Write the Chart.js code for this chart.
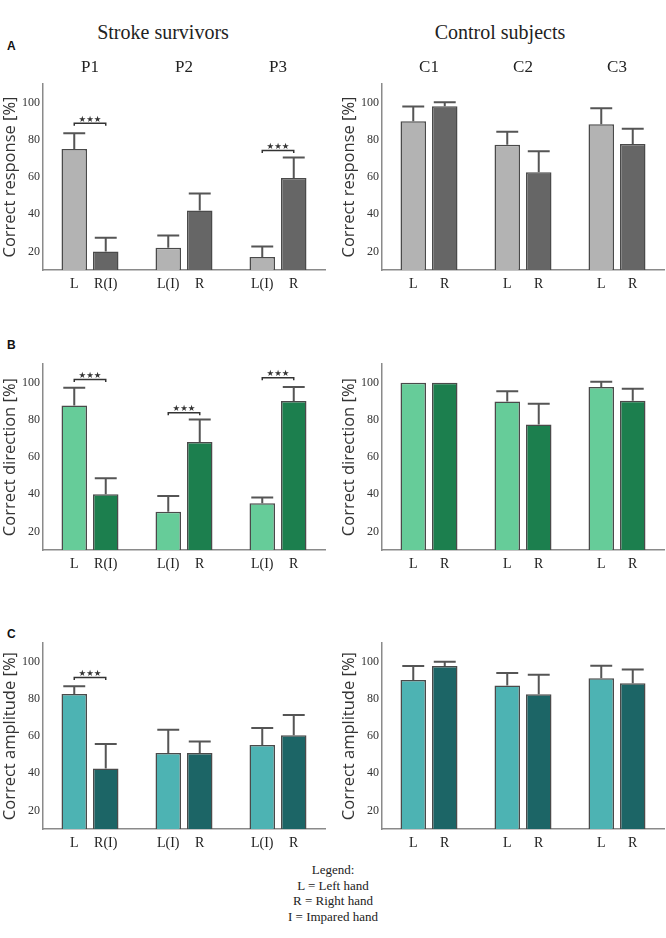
<!DOCTYPE html>
<html>
<head>
<meta charset="utf-8">
<script src="https://cdn.jsdelivr.net/npm/chart.js@4.4.0/dist/chart.umd.min.js"></script>
<style>
  body { margin: 0; background: #fff; width: 666px; height: 938px; position: relative; overflow: hidden; }
  canvas { position: absolute; }
  .t { position: absolute; transform: translate(-50%, -50%); white-space: nowrap; color: #222; font-family: "Liberation Serif", serif; }
  .lbl { position: absolute; font: bold 12px "Liberation Sans", Arial, sans-serif; color: #111; }
  .legend { position: absolute; left: 333px; top: 862px; transform: translateX(-50%); text-align: center;
            font: 13px/15.5px "Liberation Serif", serif; color: #222; white-space: nowrap; }
</style>
</head>
<body>
<div class="t" style="left:163px;top:32px;font-size:20px">Stroke survivors</div>
<div class="t" style="left:500px;top:32px;font-size:20px">Control subjects</div>
<div class="lbl" style="left:7px;top:39px">A</div>
<div class="lbl" style="left:7px;top:338px">B</div>
<div class="lbl" style="left:7px;top:627px">C</div>

<canvas id="aL" width="326" height="242" style="left:0;top:54px"></canvas>
<canvas id="aR" width="326" height="242" style="left:339px;top:54px"></canvas>
<canvas id="bL" width="326" height="222" style="left:0;top:354px"></canvas>
<canvas id="bR" width="326" height="222" style="left:339px;top:354px"></canvas>
<canvas id="cL" width="326" height="222" style="left:0;top:633px"></canvas>
<canvas id="cR" width="326" height="222" style="left:339px;top:633px"></canvas>

<div class="legend">Legend:<br>L = Left hand<br>R = Right hand<br>I = Impared hand</div>

<script>
const strokeGroups = ["P1", "P2", "P3"];
const controlGroups = ["C1", "C2", "C3"];
const strokeLeftLabels = ["L", "L(I)", "L(I)"];
const strokeRightLabels = ["R(I)", "R", "R"];
const controlLeftLabels = ["L", "L", "L"];
const controlRightLabels = ["R", "R", "R"];
const yTicks = [20, 40, 60, 80, 100];

// correct response
const respStrokeL = [75, 22, 17];
const respStrokeLErr = [8.5, 6.6, 5.7];
const respStrokeR = [20, 42, 59.5];
const respStrokeRErr = [7.3, 9.1, 11];
const respStrokeSig = [88.9, null, 74.2];
const respControlL = [90, 77.3, 88.4];
const respControlLErr = [7.9, 7, 8.6];
const respControlR = [98, 62.6, 77.8];
const respControlRErr = [2.2, 11.3, 8.2];

// correct direction
const dirStrokeL = [87.8, 30.6, 35.1];
const dirStrokeLErr = [9.5, 8.4, 3.2];
const dirStrokeR = [40, 68.1, 90.2];
const dirStrokeRErr = [8.6, 12.2, 7.5];
const dirStrokeSig = [101.8, 83.9, 102.7];
const dirControlL = [100, 89.9, 97.7];
const dirControlLErr = [0, 5.5, 2.8];
const dirControlR = [100, 77.5, 90.3];
const dirControlRErr = [0, 11.2, 6.5];

// correct amplitude
const ampStrokeL = [82.7, 50.9, 55.2];
const ampStrokeLErr = [4.1, 12.5, 9.1];
const ampStrokeR = [42.5, 50.9, 60.5];
const ampStrokeRErr = [13.2, 6.2, 10.9];
const ampStrokeSig = [91.6, null, null];
const ampControlL = [90.2, 87.3, 91.1];
const ampControlLErr = [7.5, 6.6, 6.8];
const ampControlR = [97.7, 82.5, 88.4];
const ampControlRErr = [2.3, 10.5, 7.5];

const grays = ["#b3b3b3", "#666666"];
const greens = ["#66cc99", "#1c7f4e"];
const teals = ["#4db3b3", "#1c6566"];

// error bars, upward only
const errorBars = {
  id: "errorBars",
  afterDatasetsDraw(chart) {
    const ctx = chart.ctx, y = chart.scales.y;
    ctx.save();
    ctx.strokeStyle = "#555";
    ctx.lineWidth = 2;
    chart.data.datasets.forEach((ds, i) => {
      chart.getDatasetMeta(i).data.forEach((bar, j) => {
        const err = ds.err[j];
        if (!err) return;
        const top = y.getPixelForValue(ds.data[j] + err);
        const half = bar.width * 0.43;
        ctx.beginPath();
        ctx.moveTo(bar.x, bar.y);
        ctx.lineTo(bar.x, top);
        ctx.moveTo(bar.x - half, top);
        ctx.lineTo(bar.x + half, top);
        ctx.stroke();
      });
    });
    ctx.restore();
  }
};

// L / R labels under each bar
const handLabels = {
  id: "handLabels",
  afterDraw(chart) {
    const ctx = chart.ctx;
    ctx.save();
    ctx.font = "14px 'Liberation Serif'";
    ctx.fillStyle = "#222";
    ctx.textAlign = "center";
    ctx.textBaseline = "middle";
    chart.data.datasets.forEach((ds, i) => {
      chart.getDatasetMeta(i).data.forEach((bar, j) => {
        ctx.fillText(ds.hand[j], bar.x, chart.chartArea.bottom + 14);
      });
    });
    ctx.restore();
  }
};

// significance brackets with three stars
const sigMarks = {
  id: "sig",
  afterDatasetsDraw(chart, args, opts) {
    const vals = opts.values || [];
    const ctx = chart.ctx, y = chart.scales.y;
    const m0 = chart.getDatasetMeta(0).data, m1 = chart.getDatasetMeta(1).data;
    ctx.save();
    ctx.strokeStyle = "#333";
    ctx.fillStyle = "#333";
    ctx.lineWidth = 1.5;
    ctx.font = "8.5px 'DejaVu Sans'";
    ctx.textAlign = "center";
    ctx.textBaseline = "alphabetic";
    vals.forEach((v, j) => {
      if (v == null) return;
      const py = y.getPixelForValue(v);
      const x0 = m0[j].x, x1 = m1[j].x;
      ctx.beginPath();
      ctx.moveTo(x0, py + 2.5);
      ctx.lineTo(x0, py);
      ctx.lineTo(x1, py);
      ctx.lineTo(x1, py + 2.5);
      ctx.stroke();
      const stars = "\u2605\u2605\u2605";
      const desc = ctx.measureText(stars).actualBoundingBoxDescent;
      ctx.fillText(stars, (x0 + x1) / 2, py - 0.5 - desc);
    });
    ctx.restore();
  }
};

function makePanel(id, p) {
  const scales = {
    x: {
      offset: true,
      grid: { display: false, drawTicks: false },
      border: { color: "#8a8a8a", width: 1.5 },
      ticks: { display: false },
      afterFit: s => { s.height = 26; }
    },
    y: {
      min: 10,
      max: 110,
      afterBuildTicks: s => { s.ticks = yTicks.map(v => ({ value: v })); },
      afterFit: s => { s.width = 43; },
      grid: { display: false, drawTicks: false },
      border: { color: "#8a8a8a", width: 1.5 },
      ticks: { padding: 3, color: "#333", font: { family: "Liberation Serif", size: 12 } },
      title: { display: true, text: p.yTitle, padding: 0, color: "#333", font: { family: "Open Sans", size: 16.5 } }
    }
  };
  if (p.showGroups) {
    scales.x2 = {
      type: "category",
      position: "top",
      offset: true,
      labels: p.groups,
      grid: { display: false, drawTicks: false },
      border: { display: false },
      ticks: { padding: 6, color: "#222", font: { family: "Liberation Serif", size: 17 } },
      afterFit: s => { s.height = 30; }
    };
  }
  new Chart(document.getElementById(id), {
    type: "bar",
    data: {
      labels: p.groups,
      datasets: [
        { data: p.left, err: p.leftErr, hand: p.leftHand, backgroundColor: p.colors[0] },
        { data: p.right, err: p.rightErr, hand: p.rightHand, backgroundColor: p.colors[1] }
      ]
    },
    options: {
      responsive: false,
      animation: false,
      events: [],
      layout: { padding: { top: p.showGroups ? 0 : 10, right: 1, left: 0, bottom: 0 } },
      datasets: {
        bar: { categoryPercentage: 0.67, barPercentage: 0.81, borderWidth: 1.5, borderColor: "#4a4a4a" }
      },
      plugins: {
        legend: { display: false },
        tooltip: { enabled: false },
        sig: { values: p.sig || [] }
      },
      scales
    },
    plugins: [errorBars, handLabels, sigMarks]
  });
}

makePanel("aL", { groups: strokeGroups, showGroups: true, yTitle: "Correct response [%]", colors: grays,
  left: respStrokeL, leftErr: respStrokeLErr, right: respStrokeR, rightErr: respStrokeRErr,
  leftHand: strokeLeftLabels, rightHand: strokeRightLabels, sig: respStrokeSig });
makePanel("aR", { groups: controlGroups, showGroups: true, yTitle: "Correct response [%]", colors: grays,
  left: respControlL, leftErr: respControlLErr, right: respControlR, rightErr: respControlRErr,
  leftHand: controlLeftLabels, rightHand: controlRightLabels });
makePanel("bL", { groups: strokeGroups, showGroups: false, yTitle: "Correct direction [%]", colors: greens,
  left: dirStrokeL, leftErr: dirStrokeLErr, right: dirStrokeR, rightErr: dirStrokeRErr,
  leftHand: strokeLeftLabels, rightHand: strokeRightLabels, sig: dirStrokeSig });
makePanel("bR", { groups: controlGroups, showGroups: false, yTitle: "Correct direction [%]", colors: greens,
  left: dirControlL, leftErr: dirControlLErr, right: dirControlR, rightErr: dirControlRErr,
  leftHand: controlLeftLabels, rightHand: controlRightLabels });
makePanel("cL", { groups: strokeGroups, showGroups: false, yTitle: "Correct amplitude [%]", colors: teals,
  left: ampStrokeL, leftErr: ampStrokeLErr, right: ampStrokeR, rightErr: ampStrokeRErr,
  leftHand: strokeLeftLabels, rightHand: strokeRightLabels, sig: ampStrokeSig });
makePanel("cR", { groups: controlGroups, showGroups: false, yTitle: "Correct amplitude [%]", colors: teals,
  left: ampControlL, leftErr: ampControlLErr, right: ampControlR, rightErr: ampControlRErr,
  leftHand: controlLeftLabels, rightHand: controlRightLabels });
</script>
</body>
</html>
